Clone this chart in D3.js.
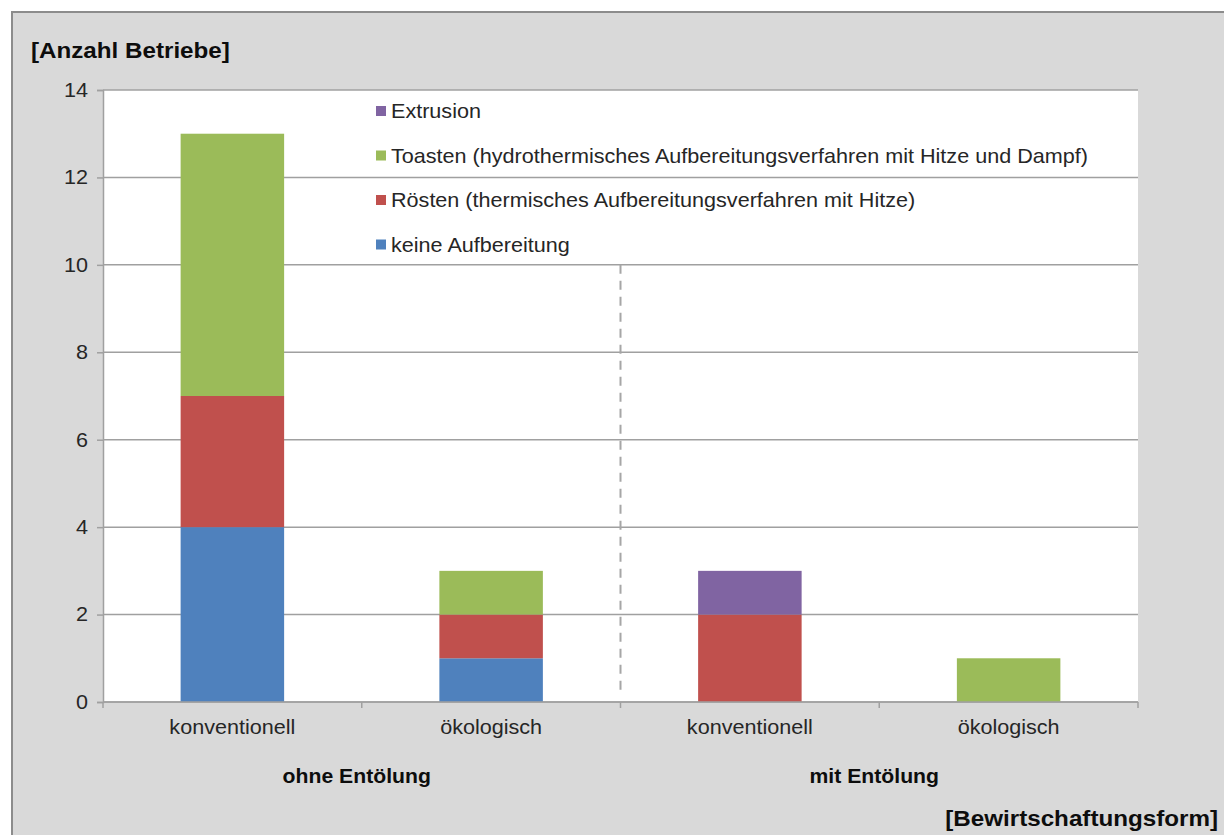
<!DOCTYPE html>
<html>
  <head>
    <meta charset="utf-8">
    <title>Anzahl Betriebe</title>
    <script src="https://d3js.org/d3.v7.min.js"></script>
    <style>
      body { margin: 0; background: #fff; }
      svg { display: block; font-family: "Liberation Sans", Arial, sans-serif; }
    </style>
  </head>
  <body>
    <svg id="chart" width="1224" height="835"></svg>
    <script>
      // data
      var categories = ["konventionell", "ökologisch", "konventionell", "ökologisch"];
      var groups = ["ohne Entölung", "mit Entölung"];
      var seriesNames = [
        "keine Aufbereitung",
        "Rösten (thermisches Aufbereitungsverfahren mit Hitze)",
        "Toasten (hydrothermisches Aufbereitungsverfahren mit Hitze und Dampf)",
        "Extrusion"
      ];
      var keine = [4, 1, 0, 0];
      var roesten = [3, 1, 2, 0];
      var toasten = [6, 1, 0, 1];
      var extrusion = [0, 0, 1, 0];
      var yTicks = [0, 2, 4, 6, 8, 10, 12, 14];
      var colors = ["#4f81bd", "#c0504d", "#9bbb59", "#8064a2"];

      // the original text is a bit wider than Liberation Sans
      function widen(sel, sx) {
        sel.each(function() {
          var t = d3.select(this);
          var xv = +t.attr("x") || 0;
          t.attr("x", xv / sx).attr("transform", "scale(" + sx + ",1)");
        });
      }

      var svg = d3.select("#chart");
      // outer frame
      svg.append("rect")
        .attr("x", 12).attr("y", 12)
        .attr("width", 1230).attr("height", 840)
        .attr("fill", "#d9d9d9")
        .attr("stroke", "#8c8c8c")
        .attr("stroke-width", 2);

      var plotLeft = 103, plotRight = 1138, plotTop = 90, plotBottom = 702;
      var x = d3.scaleBand()
        .domain(d3.range(categories.length))
        .range([plotLeft, plotRight])
        .paddingInner(0.6)
        .paddingOuter(0.3);
      var y = d3.scaleLinear().domain([0, 14]).range([plotBottom, plotTop]);

      // plot area
      svg.append("rect")
        .attr("x", plotLeft).attr("y", plotTop)
        .attr("width", plotRight - plotLeft).attr("height", plotBottom - plotTop)
        .attr("fill", "#fff");

      // gridlines
      svg.append("g")
        .selectAll("line")
        .data(yTicks)
        .join("line")
          .attr("x1", plotLeft).attr("x2", plotRight)
          .attr("y1", function(d) { return y(d); })
          .attr("y2", function(d) { return y(d); })
          .attr("stroke", "#a0a0a0")
          .attr("stroke-width", 1.5);

      // stacked bars
      var rows = categories.map(function(c, i) {
        return { i: i, s0: keine[i], s1: roesten[i], s2: toasten[i], s3: extrusion[i] };
      });
      var stack = d3.stack().keys(["s0", "s1", "s2", "s3"])(rows);
      svg.append("g")
        .selectAll("g")
        .data(stack)
        .join("g")
          .attr("fill", function(d, k) { return colors[k]; })
        .selectAll("rect")
        .data(function(d) { return d; })
        .join("rect")
          .attr("x", function(d) { return x(d.data.i); })
          .attr("width", x.bandwidth())
          .attr("y", function(d) { return y(d[1]); })
          .attr("height", function(d) { return y(d[0]) - y(d[1]); });

      // dashed separator
      var sep = x(2) - x.step() * x.paddingInner() / 2;
      svg.append("line")
        .attr("x1", sep).attr("x2", sep)
        .attr("y1", y(10)).attr("y2", plotBottom - 12)
        .attr("stroke", "#a6a6a6")
        .attr("stroke-width", 2)
        .attr("stroke-dasharray", "9,7");

      // y axis
      var yAxis = svg.append("g")
        .attr("transform", "translate(" + plotLeft + ",0)")
        .call(d3.axisLeft(y).tickValues(yTicks).tickSize(6).tickPadding(9));
      yAxis.select(".domain").attr("stroke", "#a0a0a0").attr("stroke-width", 1.5);
      yAxis.selectAll(".tick line").attr("stroke", "#a0a0a0").attr("stroke-width", 1.5);
      yAxis.selectAll(".tick text")
        .attr("font-size", 20).attr("fill", "#262626")
        .attr("font-family", "Liberation Sans, Arial, sans-serif")
        .call(widen, 1.08);

      // x axis line and ticks
      svg.append("line")
        .attr("x1", plotLeft).attr("x2", plotRight)
        .attr("y1", plotBottom).attr("y2", plotBottom)
        .attr("stroke", "#a0a0a0").attr("stroke-width", 1.5);
      var bounds = d3.range(categories.length + 1).map(function(k) {
        return plotLeft + (plotRight - plotLeft) * k / categories.length;
      });
      svg.append("g")
        .selectAll("line")
        .data(bounds)
        .join("line")
          .attr("x1", function(d) { return d; })
          .attr("x2", function(d) { return d; })
          .attr("y1", plotBottom).attr("y2", plotBottom + 6)
          .attr("stroke", "#a0a0a0").attr("stroke-width", 1.5);

      // category labels
      svg.append("g")
        .selectAll("text")
        .data(categories)
        .join("text")
          .attr("x", function(d, i) { return x(i) + x.bandwidth() / 2; })
          .attr("y", 734)
          .attr("text-anchor", "middle")
          .attr("font-size", 20)
          .attr("fill", "#262626")
          .text(function(d) { return d; })
          .call(widen, 1.08);

      // group labels
      svg.append("g")
        .selectAll("text")
        .data(groups)
        .join("text")
          .attr("x", function(d, g) { return (bounds[g * 2] + bounds[g * 2 + 2]) / 2 - 5; })
          .attr("y", 783)
          .attr("text-anchor", "middle")
          .attr("font-size", 20)
          .attr("font-weight", "bold")
          .attr("fill", "#0d0d0d")
          .text(function(d) { return d; })
          .call(widen, 1.06);

      // axis titles
      svg.append("text")
        .attr("x", 31).attr("y", 58)
        .attr("font-size", 22).attr("font-weight", "bold")
        .attr("fill", "#0d0d0d")
        .text("[Anzahl Betriebe]")
        .call(widen, 1.1);
      svg.append("text")
        .attr("x", 1218).attr("y", 826)
        .attr("text-anchor", "end")
        .attr("font-size", 22).attr("font-weight", "bold")
        .attr("fill", "#0d0d0d")
        .text("[Bewirtschaftungsform]")
        .call(widen, 1.1);

      // legend (reverse order)
      var legend = svg.append("g")
        .selectAll("g")
        .data(d3.range(seriesNames.length).reverse())
        .join("g")
          .attr("transform", function(k, j) { return "translate(376," + (111 + j * 44.5) + ")"; });
      legend.append("rect")
        .attr("x", 0).attr("y", -5)
        .attr("width", 10).attr("height", 10)
        .attr("fill", function(k) { return colors[k]; });
      legend.append("text")
        .attr("x", 15).attr("y", 7)
        .attr("font-size", 20)
        .attr("fill", "#262626")
        .text(function(k) { return seriesNames[k]; })
        .call(widen, 1.08);
    </script>
  </body>
</html>
